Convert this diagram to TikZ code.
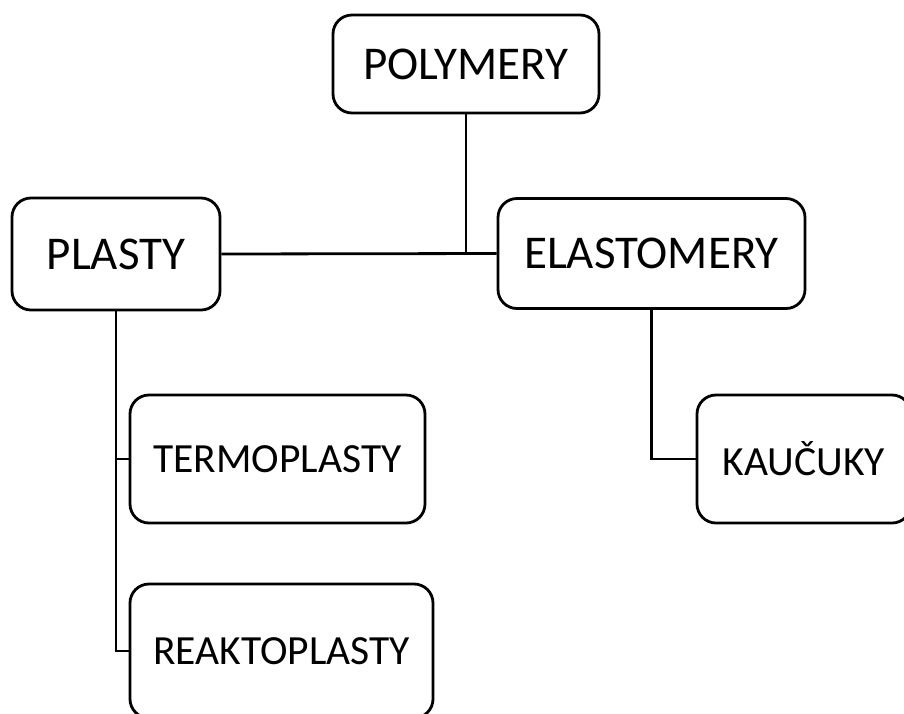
\documentclass[tikz,border=0pt]{standalone}
\usepackage{fontspec}
\setmainfont{Carlito}
\begin{document}
\begin{tikzpicture}[x=1pt,y=-1pt,
  box/.style={draw=black,line width=2.8pt,rounded corners=19pt,fill=white,inner sep=0pt,align=center},
  big/.style={box,font=\fontsize{47}{51}\selectfont},
  small/.style={box,font=\fontsize{41.5}{45}\selectfont},
  link/.style={draw=black,line width=2.8pt}]
\useasboundingbox (0,0) rectangle (904,713);
\clip (0,0) rectangle (904,713);
\node[big,minimum width=266pt,minimum height=98pt] (pol) at (466,64) {POLYMERY};
\node[big,minimum width=208pt,minimum height=112pt] (pla) at (116,254) {PLASTY};
\node[big,minimum width=307pt,minimum height=110pt] (ela) at (651.5,253.5) {ELASTOMERY};
\node[small,minimum width=295pt,minimum height=128pt] (ter) at (277.5,459) {TERMOPLASTY};
\node[small,minimum width=214pt,minimum height=128pt] (kau) at (804,459) {KAUČUKY};
\node[small,minimum width=303pt,minimum height=134pt] (rea) at (281.5,651) {REAKTOPLASTY};
\draw[link] (pol.south) -- (pol.south |- pla.east);
\draw[link] (pla.east) -- (ela.west);
\draw[link] (pla.south) |- (rea.west);
\draw[link] (pla.south |- ter.west) -- (ter.west);
\draw[link] (ela.south) |- (kau.west);
\end{tikzpicture}
\end{document}
